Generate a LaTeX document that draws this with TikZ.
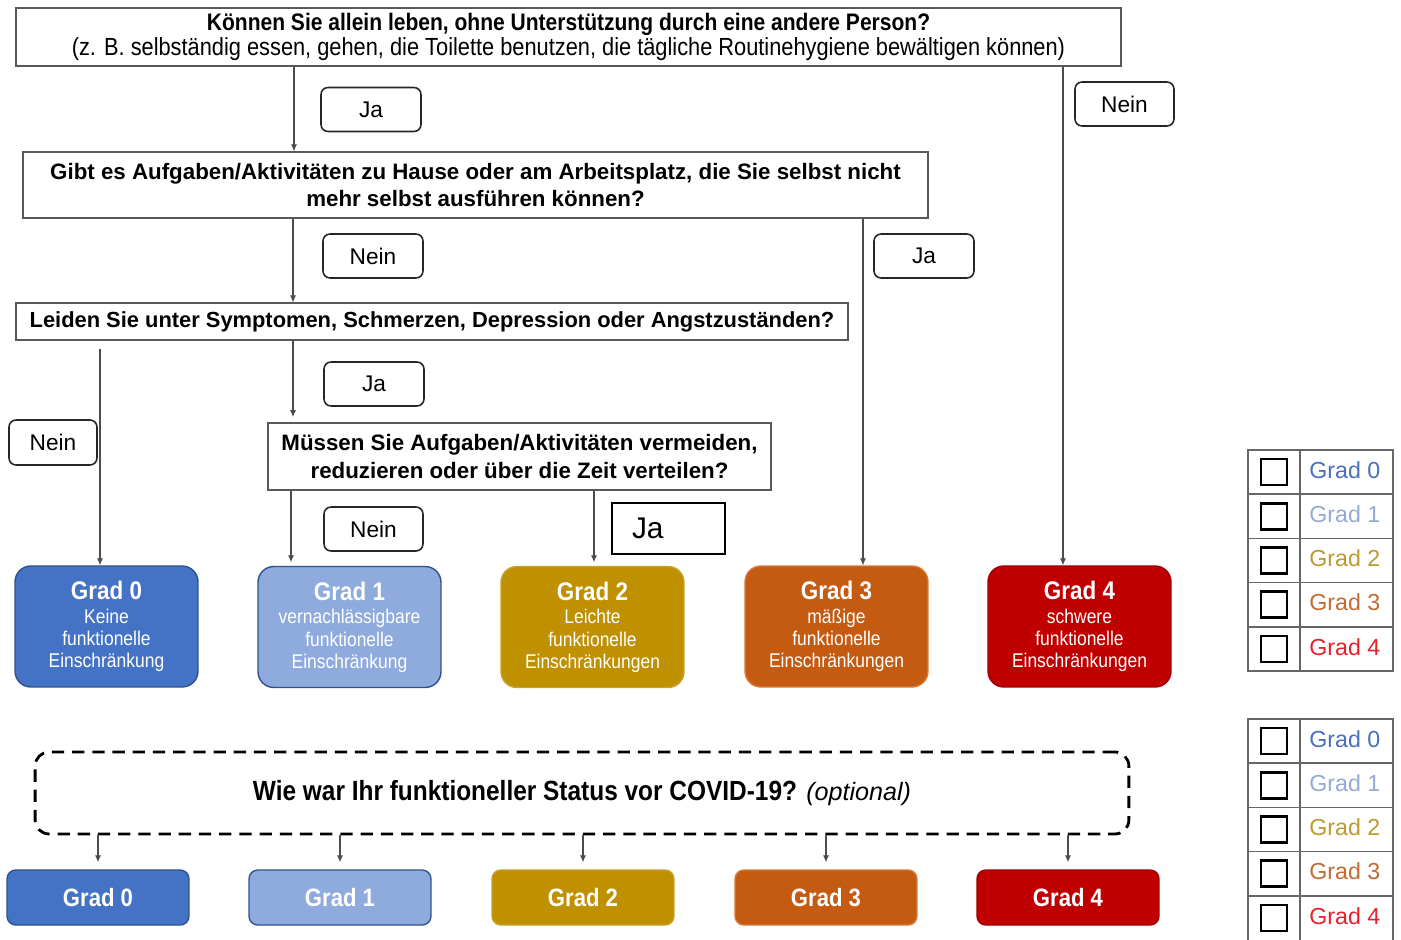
\documentclass[tikz,border=0pt]{standalone}
\usepackage{fontspec}
\setmainfont{Liberation Sans}
\newfontfamily\narr{Liberation Sans}[FakeStretch=0.88]
\usetikzlibrary{arrows.meta}
\definecolor{cG0}{HTML}{4472C4}
\definecolor{cG1}{HTML}{8FAADC}
\definecolor{cG2}{HTML}{BF9000}
\definecolor{cG3}{HTML}{C55A11}
\definecolor{cG4}{HTML}{C00000}
\definecolor{bG0}{HTML}{2F528F}
\definecolor{bG1}{HTML}{2F528F}
\definecolor{bG2}{HTML}{C9A227}
\definecolor{bG3}{HTML}{D77A3A}
\definecolor{bG4}{HTML}{A00000}
\definecolor{cT0}{HTML}{4A6FBF}
\definecolor{cT1}{HTML}{94AAD6}
\definecolor{cT2}{HTML}{BC9A30}
\definecolor{cT3}{HTML}{C46A32}
\definecolor{cT4}{HTML}{E8202A}
\tikzset{
  question/.style={draw=black!65, line width=0.7pt, fill=white, inner sep=0pt, align=center,
    font=\bfseries\fontsize{12.7}{15.5}\selectfont},
  answer/.style={draw=black!85, line width=0.9pt, rounded corners=4pt, inner sep=0pt,
    minimum width=2cm, minimum height=0.88cm, font=\fontsize{12.9}{15}\selectfont},
  grade/.style={rounded corners=9pt, line width=0.8pt, text=white, align=center, inner sep=0pt,
    minimum width=3.66cm, minimum height=2.42cm, font=\narr\fontsize{11.3}{12.6}\selectfont},
  gradesmall/.style={rounded corners=5pt, line width=0.8pt, text=white, inner sep=0pt,
    minimum width=3.64cm, minimum height=1.1cm, font=\narr\bfseries\fontsize{14.3}{15}\selectfont},
  arr/.style={draw=black!70, line width=0.6pt, -{Latex[length=4pt,width=3.5pt]}},
  tabline/.style={draw=black!60, line width=0.9pt},
  chk/.style={draw=black, line width=1.4pt, minimum size=0.52cm, inner sep=0pt},
  tlab/.style={anchor=west, inner sep=0pt, font=\fontsize{13.2}{15}\selectfont},
}
\newcommand{\gtitle}[1]{{\bfseries\fontsize{14.5}{15}\selectfont #1}}
\begin{document}
\begin{tikzpicture}[x=0.02cm,y=-0.02cm]
\useasboundingbox[fill=white] (0,0) rectangle (1401,940);

% questions
\node[question, minimum width=22.1cm, minimum height=1.16cm, font=\narr\fontsize{13.6}{12}\selectfont] (q1) at (568.5,37)
  {{\bfseries Können Sie allein leben, ohne Unterstützung durch eine andere Person?}\\{\fontsize{14.1}{12}\selectfont(z. B. selbständig essen, gehen, die Toilette benutzen, die tägliche Routinehygiene bewältigen können)}};
\node[question, minimum width=18.1cm, minimum height=1.32cm] (q2) at (475.5,185)
  {Gibt es Aufgaben/Aktivitäten zu Hause oder am Arbeitsplatz, die Sie selbst nicht\\mehr selbst ausführen können?};
\node[question, minimum width=16.64cm, minimum height=0.74cm, font=\bfseries\fontsize{12.45}{15}\selectfont] (q3) at (432,321.5)
  {Leiden Sie unter Symptomen, Schmerzen, Depression oder Angstzuständen?};
\node[question, minimum width=10.06cm, minimum height=1.34cm] (q4) at (519.5,456.5)
  {Müssen Sie Aufgaben/Aktivitäten vermeiden,\\reduzieren oder über die Zeit verteilen?};

% answers
\node[answer] (l1) at (371,109.5) {Ja};
\node[answer, minimum width=1.98cm] (l2) at (1124.5,104) {Nein};
\node[answer] (l3) at (373,256) {Nein};
\node[answer] (l4) at (924,256) {Ja};
\node[answer] (l5) at (374,384) {Ja};
\node[answer, minimum width=1.76cm, minimum height=0.9cm] (l6) at (53,442.5) {Nein};
\node[answer, minimum width=1.98cm] (l7) at (373.5,529) {Nein};
\node[draw=black, line width=1pt, inner xsep=0.4cm, inner ysep=0pt, text width=1.46cm, minimum height=1.02cm,
  align=left, font=\fontsize{17}{20}\selectfont] (l8) at (668.5,528.5) {Ja};

% grades
\node[grade, fill=cG0, draw=bG0] (g0) at (106.5,626.5) {\gtitle{Grad 0}\\[1pt]Keine\\funktionelle\\Einschränkung};
\node[grade, fill=cG1, draw=bG1] (g1) at (349.5,627) {\gtitle{Grad 1}\\[1pt]vernachlässigbare\\funktionelle\\Einschränkung};
\node[grade, fill=cG2, draw=bG2] (g2) at (592.5,627) {\gtitle{Grad 2}\\[1pt]Leichte\\funktionelle\\Einschränkungen};
\node[grade, fill=cG3, draw=bG3] (g3) at (836.5,626.5) {\gtitle{Grad 3}\\[1pt]mäßige\\funktionelle\\Einschränkungen};
\node[grade, fill=cG4, draw=bG4] (g4) at (1079.5,626.5) {\gtitle{Grad 4}\\[1pt]schwere\\funktionelle\\Einschränkungen};

% guide x positions
\coordinate (xa) at (294,0);
\coordinate (xb) at (1063,0);
\coordinate (xc) at (293,0);
\coordinate (xd) at (863,0);
\coordinate (xe) at (100,0);
\coordinate (xf) at (291,0);
\coordinate (xg) at (594,0);

\draw[arr] (q1.south -| xa) -- (q2.north -| xa);
\draw[arr] (q1.south -| xb) -- (g4.north -| xb);
\draw[arr] (q2.south -| xc) -- (q3.north -| xc);
\draw[arr] (q2.south -| xd) -- (g3.north -| xd);
\draw[arr] ([yshift=-5pt]q3.south -| xe) -- (g0.north -| xe);
\draw[arr, shorten >=3pt] (q3.south -| xc) -- (q4.north -| xc);
\draw[arr, shorten >=2pt] (q4.south -| xf) -- (g1.north -| xf);
\draw[arr, shorten >=2pt] (q4.south -| xg) -- (g2.north -| xg);

% pre-COVID question
\node[draw=black, line width=1.6pt, dash pattern=on 7pt off 4.5pt, rounded corners=8pt,
  minimum width=21.88cm, minimum height=1.64cm, font=\fontsize{14.3}{16}\selectfont] (dq) at (582,793)
  {{\narr\bfseries\fontsize{15.8}{16}\selectfont Wie war Ihr funktioneller Status vor COVID-19?} \textit{(optional)}};

\node[gradesmall, fill=cG0, draw=bG0] (b0) at (98,897.5) {Grad 0};
\node[gradesmall, fill=cG1, draw=bG1] (b1) at (340,897.5) {Grad 1};
\node[gradesmall, fill=cG2, draw=bG2] (b2) at (583,897.5) {Grad 2};
\node[gradesmall, fill=cG3, draw=bG3] (b3) at (826,897.5) {Grad 3};
\node[gradesmall, fill=cG4, draw=bG4] (b4) at (1068,897.5) {Grad 4};
\foreach \i in {0,...,4} {
  \draw[arr, shorten >=4pt] (dq.south -| b\i.north) -- (b\i.north);
}

% tables
\draw[tabline] (1248,450) rectangle (1393,671);
\draw[tabline] (1300,450) -- (1300,671);
\foreach \k in {1,...,4} { \draw[tabline] (1248,{450+44.2*\k}) -- (1393,{450+44.2*\k}); }
\draw[tabline] (1248,940) -- (1248,719) -- (1393,719) -- (1393,940);
\draw[tabline] (1300,719) -- (1300,940);
\foreach \k in {1,...,4} { \draw[tabline] (1248,{719+44.2*\k}) -- (1393,{719+44.2*\k}); }
\foreach \i in {0,...,4} {
  \node[chk] (ca\i) at (1274,{472.1+44.2*\i}) {};
  \node[tlab, text=cT\i] (ta\i) at (1309,{470+44.2*\i}) {Grad \i};
  \node[chk] (cb\i) at (1274,{741.1+44.2*\i}) {};
  \node[tlab, text=cT\i] (tb\i) at (1309,{739+44.2*\i}) {Grad \i};
}
\end{tikzpicture}
\end{document}
